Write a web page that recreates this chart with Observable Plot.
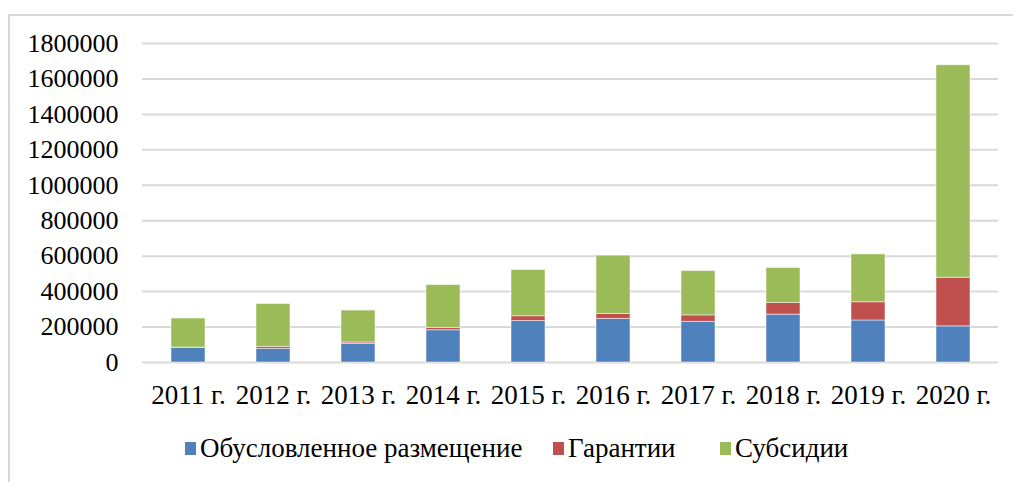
<!DOCTYPE html>
<html>
<head>
<meta charset="utf-8">
<script src="https://cdn.jsdelivr.net/npm/d3@7"></script>
<script src="https://cdn.jsdelivr.net/npm/@observablehq/plot@0.6"></script>
<style>
  html, body { margin: 0; padding: 0; background: #fff; }
  body { width: 1013px; height: 482px; position: relative; overflow: hidden; font-family: "Liberation Serif", "Times New Roman", serif; }
  #frame { position: absolute; left: 8px; top: 14px; width: 1100px; height: 600px; border-top: 2px solid #d9d9d9; border-left: 2px solid #d9d9d9; }
  #chart { position: absolute; left: 0; top: 0; }
  #legend { position: absolute; left: 0; top: 433px; width: 1013px; height: 40px; font-size: 27px; color: #000; }
  .item { position: absolute; top: 0; display: flex; align-items: center; white-space: nowrap; }
  .sw { width: 11px; height: 13px; margin-right: 4px; }
</style>
</head>
<body>
<div id="frame"></div>
<div id="chart"></div>
<div id="legend"></div>
<script>
const years = ["2011 г.", "2012 г.", "2013 г.", "2014 г.", "2015 г.", "2016 г.", "2017 г.", "2018 г.", "2019 г.", "2020 г."];
const seriesNames = ["Обусловленное размещение", "Гарантии", "Субсидии"];
const seriesColors = ["#4F81BD", "#C0504D", "#9BBB59"];
const placement = [82000, 77000, 105000, 182000, 234000, 246000, 229000, 270000, 237000, 204000];
const guarantees = [2000, 11000, 8000, 13000, 27000, 28000, 37000, 66000, 103000, 274000];
const subsidies = [164000, 242000, 180000, 242000, 261000, 329000, 250000, 197000, 270000, 1199000];
const yTicks = [0, 200000, 400000, 600000, 800000, 1000000, 1200000, 1400000, 1600000, 1800000];

const seriesValues = [placement, guarantees, subsidies];
const data = [];
seriesNames.forEach((s, si) => {
  years.forEach((y, i) => data.push({year: y, series: s, value: seriesValues[si][i]}));
});

const serif = "Liberation Serif";
const chart = Plot.plot({
  width: 1013,
  height: 420,
  marginLeft: 142,
  marginRight: 15,
  marginTop: 43,
  marginBottom: 58,
  style: {fontFamily: serif, fontSize: "26px", color: "#000", background: "transparent"},
  x: {domain: years, paddingInner: 0.6, paddingOuter: 0.3, label: null},
  y: {domain: [0, 1800000], label: null},
  color: {domain: seriesNames, range: seriesColors},
  marks: [
    Plot.ruleY(yTicks, {stroke: "#d9d9d9", strokeWidth: 2, strokeOpacity: 1}),
    Plot.barY(data, Plot.stackY({x: "year", y: "value", fill: "series", order: seriesNames, stroke: "#ffffff", strokeOpacity: 0.5, strokeWidth: 1})),
    Plot.axisX({tickSize: 0, tickPadding: 22, fontSize: 27, fontFamily: serif, label: null}),
    Plot.axisY({ticks: yTicks, tickFormat: d3.format("d"), tickSize: 0, tickPadding: 24, fontSize: 26, fontFamily: serif, label: null})
  ]
});
chart.querySelectorAll("text").forEach(t => { t.style.fontFamily = "'Liberation Serif', serif"; t.style.fontVariantNumeric = "normal"; });
document.getElementById("chart").appendChild(chart);

const legend = document.getElementById("legend");
const legendX = [185, 553, 720];
seriesNames.forEach((s, i) => {
  const item = document.createElement("div");
  item.className = "item";
  item.style.left = legendX[i] + "px";
  const sw = document.createElement("div");
  sw.className = "sw";
  sw.style.background = seriesColors[i];
  const t = document.createElement("span");
  t.textContent = s;
  item.appendChild(sw);
  item.appendChild(t);
  legend.appendChild(item);
});
</script>
</body>
</html>
